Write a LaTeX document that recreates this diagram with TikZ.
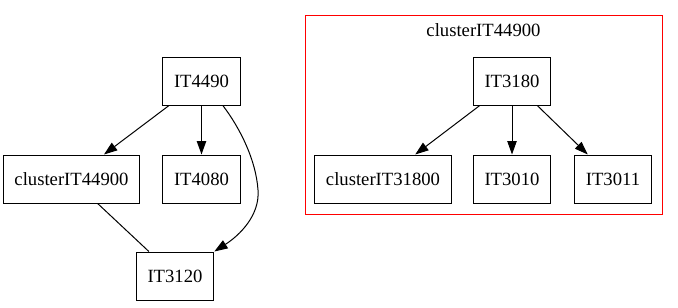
\documentclass[tikz,border=0pt]{standalone}
\usepackage{fontspec}
\setmainfont{Liberation Serif}
\usetikzlibrary{arrows.meta}

\tikzset{
    block/.style={draw, line width=0.75pt, minimum width=57.75pt, minimum height=36pt,
        inner xsep=8.5pt, font=\fontsize{14}{16}\selectfont},
    link/.style={line width=0.75pt},
    arc/.style={link, -{Triangle[length=10pt, width=7pt]}}
}

\begin{document}
\begin{tikzpicture}[x=0.75pt, y=-0.75pt]
        \useasboundingbox (0,0) rectangle (678,307);

        % Cluster frame
        \draw[red, line width=0.75pt] (305,15) rectangle (662,214);
        \node[font=\fontsize{14}{16}\selectfont] (clusterlabel) at (483.5,30) {clusterIT44900};

        % Blocks
        \node[block] (it4490) at (201.5,81) {IT4490};
        \node[block] (cl44900) at (71.5,179) {clusterIT44900};
        \node[block] (it4080) at (201.5,179) {IT4080};
        \node[block] (it3120) at (175,276) {IT3120};

        \node[block] (it3180) at (512,81) {IT3180};
        \node[block] (cl31800) at (383,179) {clusterIT31800};
        \node[block] (it3010) at (512,179) {IT3010};
        \node[block] (it3011) at (613,179) {IT3011};

        % Arrows
        \draw[arc] (it4490) -- (cl44900);
        \draw[arc] (it4490) -- (it4080);
        \draw[arc] ([xshift=16pt]it4490.south) .. controls (240,128) and (256,160) .. (258,190)
            .. controls (260,215) and (240,235) .. (it3120.north east);
        \draw[link] (cl44900) -- (it3120);

        \draw[arc] (it3180) -- (cl31800);
        \draw[arc] (it3180) -- (it3010);
        \draw[arc] (it3180) -- (it3011);

    \end{tikzpicture}
\end{document}
